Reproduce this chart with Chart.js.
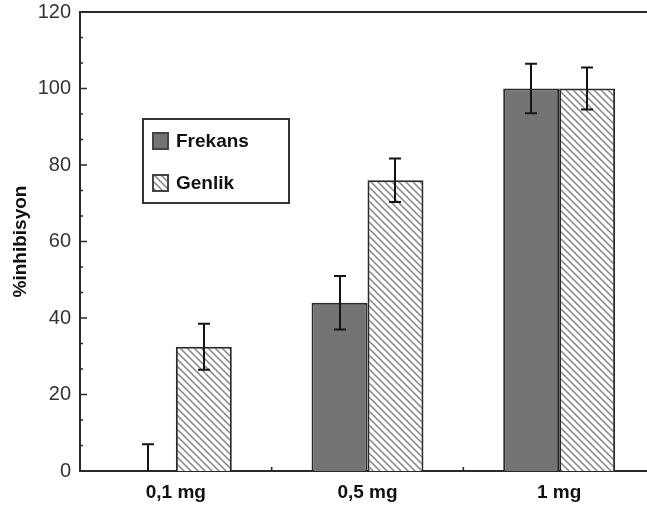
<!DOCTYPE html>
<html>
<head>
<meta charset="utf-8">
<script src="https://cdn.jsdelivr.net/npm/chart.js@4/dist/chart.umd.min.js"></script>
<style>
  html, body { margin: 0; padding: 0; overflow: hidden; background: #fff; }
  #wrap { width: 660px; height: 513px; }
</style>
</head>
<body>
<div id="wrap"><canvas id="inhibisyon-chart" width="660" height="513"></canvas></div>
<script>
// doz gruplari ve olculen degerler
const doses = ['0,1 mg', '0,5 mg', '1 mg'];
const frekansValues = [0, 44, 100];
const frekansErrors = [7, 7, 6.5];
const genlikValues = [32.5, 76, 100];
const genlikErrors = [6, 5.7, 5.5];
const yTicks = [0, 20, 40, 60, 80, 100, 120];

const FONT = "'Liberation Sans', Arial, Helvetica, sans-serif";
const LINE = '#2a2a2a';

// Genlik icin ters egik taramali desen
function makeHatch() {
  const size = 7;
  const c = document.createElement('canvas');
  c.width = size;
  c.height = size;
  const g = c.getContext('2d');
  g.fillStyle = '#fff';
  g.fillRect(0, 0, size, size);
  g.strokeStyle = '#858585';
  g.lineWidth = 1.5;
  g.beginPath();
  g.moveTo(-1, -1); g.lineTo(size + 1, size + 1);
  g.moveTo(-size - 1, -1); g.lineTo(1, size + 1);
  g.moveTo(size - 1, -1); g.lineTo(2 * size + 1, size + 1);
  g.stroke();
  return g.createPattern(c, 'repeat');
}

const hatch = makeHatch();
const errorSets = [frekansErrors, genlikErrors];

// hata cubuklari
const errorBars = {
  id: 'errorBars',
  afterDatasetsDraw(chart) {
    const { ctx, chartArea, scales } = chart;
    const y = scales.y;
    ctx.save();
    ctx.beginPath();
    ctx.rect(chartArea.left, chartArea.top, chartArea.right - chartArea.left, chartArea.bottom - chartArea.top);
    ctx.clip();
    ctx.strokeStyle = '#151515';
    ctx.lineWidth = 2;
    chart.data.datasets.forEach((ds, i) => {
      const meta = chart.getDatasetMeta(i);
      meta.data.forEach((bar, j) => {
        const v = ds.data[j];
        const e = errorSets[i][j];
        const top = y.getPixelForValue(v + e);
        const bottom = y.getPixelForValue(v - e);
        const x = Math.round(bar.x);
        ctx.beginPath();
        ctx.moveTo(x, top); ctx.lineTo(x, bottom);
        ctx.moveTo(x - 6, top); ctx.lineTo(x + 6, top);
        ctx.moveTo(x - 6, bottom); ctx.lineTo(x + 6, bottom);
        ctx.stroke();
      });
    });
    ctx.restore();
  }
};

// cerceve ve iceri bakan tik isaretleri
const frame = {
  id: 'frame',
  afterDraw(chart) {
    const { ctx, chartArea, scales } = chart;
    const { left, right, top, bottom } = chartArea;
    ctx.save();
    ctx.strokeStyle = LINE;
    ctx.lineWidth = 2;
    ctx.beginPath();
    ctx.moveTo(left - 1, top); ctx.lineTo(right, top);
    ctx.lineTo(right, bottom);
    ctx.stroke();

    ctx.lineWidth = 1.6;
    ctx.beginPath();
    for (let i = 0; i < yTicks.length; i++) {
      const py = scales.y.getPixelForValue(yTicks[i]);
      ctx.moveTo(left, py); ctx.lineTo(left + 7, py);
      if (i < yTicks.length - 1) {
        const step = (yTicks[i + 1] - yTicks[i]) / 3;
        for (let k = 1; k < 3; k++) {
          const my = scales.y.getPixelForValue(yTicks[i] + step * k);
          ctx.moveTo(left, my); ctx.lineTo(left + 3, my);
        }
      }
    }
    for (let i = 0; i < doses.length - 1; i++) {
      const px = (scales.x.getPixelForValue(i) + scales.x.getPixelForValue(i + 1)) / 2;
      ctx.moveTo(px, bottom); ctx.lineTo(px, bottom - 4);
    }
    ctx.stroke();
    ctx.restore();
  }
};

// grafik icindeki lejant kutusu
const boxLegend = {
  id: 'boxLegend',
  afterDraw(chart, args, opts) {
    const { ctx } = chart;
    ctx.save();
    ctx.strokeStyle = '#333';
    ctx.lineWidth = 2;
    ctx.fillStyle = '#fff';
    ctx.fillRect(opts.x, opts.y, opts.w, opts.h);
    ctx.strokeRect(opts.x, opts.y, opts.w, opts.h);
    ctx.font = 'bold 19px ' + FONT;
    ctx.textBaseline = 'middle';
    chart.data.datasets.forEach((ds, i) => {
      const cy = opts.y + opts.rows[i];
      ctx.fillStyle = ds.backgroundColor;
      ctx.fillRect(opts.x + 10, cy - 8, 15, 16);
      ctx.strokeStyle = '#444';
      ctx.lineWidth = 2;
      ctx.strokeRect(opts.x + 10, cy - 8, 15, 16);
      ctx.fillStyle = '#111';
      ctx.fillText(ds.label, opts.x + 33, cy + 1);
    });
    ctx.restore();
  }
};

function renderChart() {
  const ctx = document.getElementById('inhibisyon-chart').getContext('2d');
  new Chart(ctx, {
    type: 'bar',
    data: {
      labels: doses,
      datasets: [
        {
          label: 'Frekans',
          data: frekansValues,
          backgroundColor: '#747474',
          borderColor: LINE,
          borderWidth: 2
        },
        {
          label: 'Genlik',
          data: genlikValues,
          backgroundColor: hatch,
          borderColor: LINE,
          borderWidth: 2
        }
      ]
    },
    options: {
      responsive: false,
      animation: false,
      devicePixelRatio: 1,
      layout: { padding: { top: 12, right: 5, left: 0, bottom: 0 } },
      plugins: {
        legend: { display: false },
        tooltip: { enabled: false },
        boxLegend: { x: 143, y: 119, w: 146, h: 84, rows: [22, 64] }
      },
      datasets: {
        bar: { categoryPercentage: 0.584, barPercentage: 1.0 }
      },
      scales: {
        x: {
          grid: { display: false, drawTicks: false },
          border: { display: true, color: LINE, width: 2 },
          ticks: {
            color: '#111',
            padding: 10,
            font: { family: FONT, size: 19, weight: 'bold' }
          },
          afterFit(scale) {
            scale.height = 42;
            scale.paddingLeft = 0;
            scale.paddingRight = 0;
          }
        },
        y: {
          min: 0,
          max: 120,
          grid: { display: false, drawTicks: false },
          border: { display: true, color: LINE, width: 2 },
          afterBuildTicks(scale) { scale.ticks = yTicks.map(v => ({ value: v })); },
          ticks: {
            color: '#333',
            padding: 9,
            font: { family: FONT, size: 20 }
          },
          title: {
            display: true,
            text: '%inhibisyon',
            color: '#111',
            padding: { top: 9, bottom: 0 },
            font: { family: FONT, size: 19, weight: 'bold' }
          },
          afterFit(scale) {
            scale.width = 80;
            scale.paddingTop = 0;
            scale.paddingBottom = 0;
          }
        }
      }
    },
    plugins: [errorBars, frame, boxLegend]
  });
}

document.addEventListener('DOMContentLoaded', renderChart);
</script>
</body>
</html>
